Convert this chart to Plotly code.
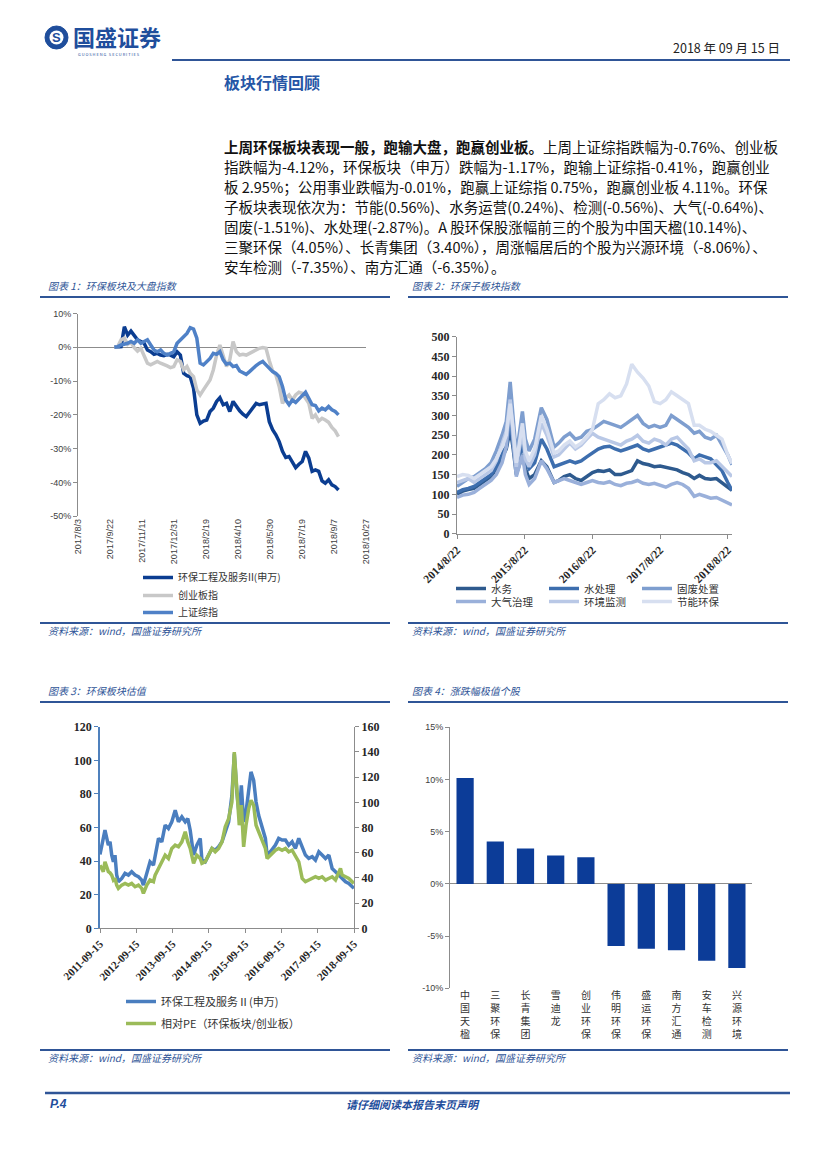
import plotly.graph_objects as go
import pandas as pd

W, H = 827, 1169
OFF = 8  # page body offset compensation
def X(p): return (p - OFF) / W
def Y(p): return 1 - (p - OFF) / H

CJK = "Noto Sans CJK SC"
BLUE_T = "#2F5597"

# ---------------- Chart 1 data ----------------
c1_dates = pd.date_range("2017-09-29", "2018-09-14", periods=69)
c1_names = ["环保工程及服务II(申万)", "创业板指", "上证综指"]
c1_hb = [0, 0, 0.2, 6.1, 3.6, 4.8, 3.6, 2.2, 1.7, 1.2,
         -0.8, -1.3, -2.1, -1.8, -2.3, -2.5, -2.1, -2.3, -2.8, -1.3,
         -2.3, -7.7, -8.4, -8.7, -12.1, -20, -22.5, -21.8, -21.5, -19,
         -18, -16, -14.9, -17, -16.6, -19, -16, -17.5, -18.8, -19.8,
         -20.5, -19.2, -18, -16.6, -17, -16.8, -16.6, -22, -24.4, -25.9,
         -27.9, -30.8, -32.6, -32.3, -33.8, -35.6, -34.6, -33.8, -30.8, -32.8,
         -36.7, -36.3, -36.7, -39.5, -40.2, -39.2, -40.7, -41.2, -42.2]
c1_cyb = [0, 0.2, 2.2, 2.7, 0.9, 1.5, -0.1, -1.1, -0.3, -2.3,
          -4.7, -5.2, -4.7, -4.2, -4.7, -5, -5.5, -6, -5.7, -3.7,
          -4.2, -6.7, -5.7, -7.7, -8.7, -12.6, -14.1, -12.6, -11.1, -9.7,
          -6.7, -2.3, 0.7, -2.3, -5.7, -3.7, 1.7, -1.3, -2.3, -2.1,
          -2.3, -1.8, -1.3, -0.8, -0.3, -0.1, -0.3, -4, -7, -8.2,
          -11.6, -16.6, -15.1, -14.1, -15.6, -14.1, -13.3, -13.6, -14.9, -16.6,
          -21, -20, -21.8, -21, -21.5, -22.2, -23.7, -24.7, -26.4]
c1_sh = [0, 0.2, 0.7, 0.9, 1.2, 1.7, 1.2, 2.2, 1.2, 1.7,
         2.2, 0.7, -0.8, -1.3, -0.8, -1.8, -2.3, -1.8, -1.3, 1.2,
         2.2, 3.2, 4.1, 5.8, 5.4, 2.7, -4.7, -5.2, -4.2, -3.3,
         -1.8, -2.1, -1.3, -3.7, -5, -4.7, -5.7, -5.4, -7, -7.4,
         -8, -7.2, -6.2, -5.4, -4.7, -4.2, -5.2, -6.2, -7.2, -7.7,
         -8.7, -11.6, -15.6, -17, -15.6, -16.3, -15.1, -14.3, -13.3, -15.3,
         -17, -17.2, -18.8, -18, -18.5, -17.5, -18.5, -19, -20]
c1_colors = ["#0B3D91", "#C8C8C8", "#4F81C7"]
c1_tickdates = ["2017-08-03", "2017-09-22", "2017-11-11", "2017-12-31", "2018-02-19",
                "2018-04-10", "2018-05-30", "2018-07-19", "2018-09-07", "2018-10-27"]
c1_ticklabels = ["2017/8/3", "2017/9/22", "2017/11/11", "2017/12/31", "2018/2/19",
                 "2018/4/10", "2018/5/30", "2018/7/19", "2018/9/7", "2018/10/27"]
c1_yticks = [-50, -40, -30, -20, -10, 0, 10]

# ---------------- Chart 2 data ----------------
c2_dates = ["2014-08-22", "2014-09-22", "2014-10-22", "2014-11-22", "2014-12-22",
            "2015-01-22", "2015-02-22", "2015-03-22", "2015-04-22", "2015-05-15",
            "2015-06-05", "2015-06-20", "2015-07-08", "2015-08-10", "2015-08-26",
            "2015-09-15", "2015-10-15", "2015-11-20", "2015-12-20", "2016-01-28",
            "2016-02-22", "2016-03-22", "2016-04-22", "2016-05-22", "2016-06-22",
            "2016-07-22", "2016-08-22", "2016-09-22", "2016-10-22", "2016-11-22",
            "2016-12-22", "2017-01-22", "2017-02-22", "2017-03-22", "2017-04-22",
            "2017-05-22", "2017-06-22", "2017-07-22", "2017-08-22", "2017-09-22",
            "2017-10-22", "2017-11-22", "2017-12-22", "2018-01-22", "2018-02-22",
            "2018-03-22", "2018-04-22", "2018-05-22", "2018-06-22", "2018-07-22",
            "2018-08-22", "2018-09-14"]
c2_sw = [100, 108, 112, 115, 125, 135, 145, 165, 195, 215,
         265, 220, 150, 200, 165, 140, 150, 185, 170, 130,
         135, 145, 150, 140, 135, 145, 155, 160, 158, 162,
         150, 150, 155, 160, 185, 178, 175, 170, 172, 168,
         165, 162, 155, 150, 140, 148, 140, 138, 140, 128,
         118, 110]
c2_scl = [105, 112, 115, 120, 130, 140, 150, 170, 205, 220,
          280, 230, 160, 230, 185, 165, 180, 240, 215, 170,
          175, 180, 185, 180, 185, 195, 205, 215, 220, 222,
          215, 210, 215, 220, 225, 215, 210, 215, 220, 225,
          230, 225, 215, 205, 190, 200, 195, 190, 175, 160,
          130, 110]
c2_gf = [120, 130, 140, 145, 155, 165, 180, 210, 250, 285,
         385, 290, 200, 310, 240, 210, 240, 320, 290, 220,
         230, 245, 255, 240, 245, 260, 265, 275, 285, 280,
         275, 270, 280, 290, 300, 280, 270, 275, 270, 275,
         300, 290, 280, 270, 255, 260, 245, 240, 250, 225,
         200, 175]
c2_dq = [92, 98, 100, 105, 115, 125, 135, 150, 180, 220,
         340, 240, 145, 200, 150, 125, 140, 185, 165, 130,
         135, 140, 135, 130, 125, 130, 135, 130, 128, 132,
         125, 122, 128, 130, 135, 128, 125, 128, 122, 118,
         125, 130, 125, 115, 95, 100, 95, 90, 92, 85,
         78, 73]
c2_jc = [130, 135, 140, 130, 140, 150, 160, 185, 225, 260,
         340, 270, 170, 260, 190, 170, 200, 280, 250, 195,
         200, 215, 230, 215, 225, 240, 255, 245, 240, 235,
         230, 225, 235, 240, 250, 235, 230, 240, 235, 225,
         240, 245, 230, 215, 185, 190, 180, 180, 185, 170,
         155, 145]
c2_jn = [145, 150, 148, 140, 150, 160, 170, 190, 220, 250,
         330, 270, 180, 280, 210, 185, 215, 300, 265, 205,
         210, 225, 235, 220, 230, 245, 265, 330, 340, 355,
         345, 350, 380, 430, 410, 395, 375, 335, 330, 340,
         360, 350, 340, 330, 275, 275, 265, 260, 250, 240,
         200, 178]
c2_names = ["水务", "水处理", "固废处置", "大气治理", "环境监测", "节能环保"]
c2_colors = ["#2E5A8E", "#3D6EAE", "#7E9ECF", "#9AB0DA", "#B9C8E6", "#D7DFF0"]
c2_tickdates = ["2014-08-22", "2015-08-22", "2016-08-22", "2017-08-22", "2018-08-22"]
c2_ticklabels = ["2014/8/22", "2015/8/22", "2016/8/22", "2017/8/22", "2018/8/22"]

# ---------------- Chart 3 data ----------------
c3_dates = ["2011-09-15", "2011-10-18", "2011-11-04", "2011-12-08", "2011-12-25",
            "2012-01-11", "2012-01-28", "2012-02-13", "2012-03-01", "2012-03-18",
            "2012-04-21", "2012-05-24", "2012-06-27", "2012-07-30", "2012-09-02",
            "2012-10-06", "2012-11-08", "2012-11-25", "2012-12-29", "2013-01-31",
            "2013-03-06", "2013-03-23", "2013-04-26", "2013-05-29", "2013-07-02",
            "2013-08-04", "2013-09-07", "2013-10-11", "2013-11-13", "2013-12-17",
            "2014-01-20", "2014-02-15", "2014-03-11", "2014-04-14", "2014-05-17",
            "2014-06-20", "2014-07-07", "2014-08-09", "2014-09-12", "2014-10-16",
            "2014-11-18", "2014-12-22", "2015-01-25", "2015-02-27", "2015-04-02",
            "2015-05-05", "2015-05-29", "2015-06-25", "2015-07-18", "2015-08-08",
            "2015-08-31", "2015-09-24", "2015-10-21", "2015-11-13", "2015-12-10",
            "2016-01-03", "2016-01-29", "2016-03-03", "2016-04-06", "2016-04-23",
            "2016-05-26", "2016-07-16", "2016-08-18", "2016-09-21", "2016-10-25",
            "2016-11-27", "2016-12-31", "2017-02-02", "2017-03-08", "2017-04-11",
            "2017-05-14", "2017-06-17", "2017-07-21", "2017-08-23", "2017-09-26",
            "2017-10-29", "2017-12-02", "2018-01-05", "2018-02-07", "2018-03-13",
            "2018-04-16", "2018-05-02", "2018-05-19", "2018-06-22", "2018-07-25",
            "2018-09-14"]
c3_pe = [44, 53.5, 58.4, 49.5, 51.5, 43.6, 39.6, 43.6, 31.7, 27.7,
         29.7, 32.7, 31.7, 33.7, 31.7, 30.7, 28.7, 25.7, 33.7, 39.6,
         37.6, 43.6, 53.5, 51.5, 61.4, 59.4, 63.4, 70.3, 63.4, 66.3,
         63.4, 65.3, 58.4, 43.6, 49.5, 53.5, 40.6, 39.6, 43.6, 47.5,
         46.5, 48.5, 51.5, 57.4, 63.4, 79.2, 104, 80.2, 67.3, 85.1,
         63.4, 69.3, 81.2, 93.1, 88.1, 75.2, 67.3, 59.4, 53.5, 43.6,
         45.5, 49.5, 53.5, 52.5, 52.5, 49.5, 51.5, 47.5, 53.5, 48.5,
         43.6, 41.6, 42.6, 40.6, 45.5, 43.6, 41.6, 43.6, 35.6, 33.7,
         31.7, 30.7, 29.7, 27.7, 26.7, 23.8]
c3_rel = [50, 45, 52.8, 45, 44, 42.2, 38.3, 39.6, 34.3, 31.7,
          34.3, 35.6, 34.3, 35.6, 33, 34.3, 31.7, 27.7, 34.3, 38.3,
          37, 42.2, 47.5, 52.8, 58, 55.4, 63.4, 66, 64.7, 68.6,
          76.6, 68.6, 63.4, 51.5, 58, 55.4, 51.5, 52.8, 58, 63.4,
          60.7, 63.4, 68.6, 80.5, 87.1, 100.3, 139.9, 103, 81.8, 97.7,
          64.7, 81.8, 95, 101.6, 97.7, 81.8, 76.6, 71.3, 63.4, 55.4,
          58, 62, 63.4, 62, 63.4, 60.7, 62, 58, 52.8, 39.6,
          37, 38.3, 39.6, 40.9, 39.6, 40.9, 38.3, 39.6, 40.9, 38.3,
          45, 47.5, 42.2, 40.9, 39.6, 35.6]
c3_names = ["环保工程及服务Ⅱ(申万)", "相对PE（环保板块/创业板）"]
c3_colors = ["#4A7EBF", "#9BBB59"]
c3_tickdates = ["2011-09-15", "2012-09-15", "2013-09-15", "2014-09-15",
                "2015-09-15", "2016-09-15", "2017-09-15", "2018-09-15"]

# ---------------- Chart 4 data ----------------
c4_stocks = ["中国天楹", "三聚环保", "长青集团", "雪迪龙", "创业环保",
             "伟明环保", "盛运环保", "南方汇通", "安车检测", "兴源环境"]
c4_change = [10.14, 4.05, 3.40, 2.71, 2.55, -5.95, -6.22, -6.35, -7.35, -8.06]
c4_yticks = [-10, -5, 0, 5, 10, 15]

# ---------------- Text ----------------
para_lines = [
    "<b>上周环保板块表现一般，跑输大盘，跑赢创业板。</b>上周上证综指跌幅为-0.76%、创业板",
    "指跌幅为-4.12%，环保板块（申万）跌幅为-1.17%，跑输上证综指-0.41%，跑赢创业",
    "板 2.95%；公用事业跌幅为-0.01%，跑赢上证综指 0.75%，跑赢创业板 4.11%。环保",
    "子板块表现依次为：节能(0.56%)、水务运营(0.24%)、检测(-0.56%)、大气(-0.64%)、",
    "固废(-1.51%)、水处理(-2.87%)。A 股环保股涨幅前三的个股为中国天楹(10.14%)、",
    "三聚环保（4.05%）、长青集团（3.40%），周涨幅居后的个股为兴源环境（-8.06%）、",
    "安车检测（-7.35%）、南方汇通（-6.35%）。",
]
chart_titles = ["图表 1：环保板块及大盘指数", "图表 2：环保子板块指数",
                "图表 3：环保板块估值", "图表 4：涨跌幅极值个股"]
source_text = "资料来源：wind，国盛证券研究所"

fig = go.Figure()

# Chart 1 traces (one legend per row)
c1_legends = ["legend", "legend5", "legend6"]
for vals, name, col, lg in zip([c1_hb, c1_cyb, c1_sh], c1_names, c1_colors, c1_legends):
    fig.add_trace(go.Scatter(x=c1_dates, y=vals, name=name, mode="lines",
                             line=dict(color=col, width=3.5), xaxis="x", yaxis="y",
                             legend=lg))

# Chart 2 traces
for i, (vals, name, col) in enumerate(zip([c2_sw, c2_scl, c2_gf, c2_dq, c2_jc, c2_jn], c2_names, c2_colors)):
    fig.add_trace(go.Scatter(x=c2_dates, y=vals, name=name, mode="lines",
                             line=dict(color=col, width=3.5), xaxis="x2", yaxis="y2",
                             legend="legend2" if i < 3 else "legend3"))

# Chart 3 traces
fig.add_trace(go.Scatter(x=c3_dates, y=c3_pe, name=c3_names[0], mode="lines",
                         line=dict(color=c3_colors[0], width=3.5), xaxis="x3", yaxis="y3",
                         legend="legend4"))
fig.add_trace(go.Scatter(x=c3_dates, y=c3_rel, name=c3_names[1], mode="lines",
                         line=dict(color=c3_colors[1], width=3.5), xaxis="x3", yaxis="y4",
                         legend="legend7"))

# Chart 4 bars
fig.add_trace(go.Bar(x=["<br>".join(s) for s in c4_stocks], y=c4_change,
                     marker=dict(color="#0C3C98", line=dict(width=0)),
                     xaxis="x4", yaxis="y5", showlegend=False))

AX = "#8C8C8C"
sans_tick = dict(family="Liberation Sans", size=9, color="#404040")
serif_tick = dict(family="Liberation Serif", size=12, color="#262626", weight="bold")

def leg(xp, ytop, size, horizontal=False):
    d = dict(x=X(xp), y=Y(ytop), xanchor="left", yanchor="top",
             orientation="h" if horizontal else "v",
             font=dict(family=CJK, size=size, color="#333333"),
             bgcolor="rgba(0,0,0,0)", borderwidth=0)
    if horizontal:
        d.update(entrywidth=48, entrywidthmode="pixels")
    return d

fig.update_layout(
    template="none",
    width=W, height=H, margin=dict(l=0, r=0, t=0, b=0, autoexpand=False),
    paper_bgcolor="white", plot_bgcolor="white",
    bargap=0.43,
    xaxis=dict(domain=[X(78), X(366)], anchor="y", type="date", automargin=False,
               range=["2017-08-03", "2018-10-27"], tickvals=c1_tickdates,
               ticktext=c1_ticklabels, tickangle=-90, showline=False,
               showgrid=False, zeroline=False, ticks="", tickfont=sans_tick),
    yaxis=dict(domain=[Y(516.3), Y(313.5)], anchor="x", range=[-50, 10], automargin=False,
               tickvals=c1_yticks, ticktext=[f"{v}%" for v in c1_yticks],
               showline=True, linecolor=AX, linewidth=1, ticks="outside",
               ticklen=4, tickcolor=AX, showgrid=False, zeroline=True,
               zerolinecolor=AX, zerolinewidth=1, tickfont=sans_tick),
    xaxis2=dict(domain=[X(457), X(732)], anchor="y2", type="date", automargin=False,
                range=["2014-08-22", "2018-09-14"], tickvals=c2_tickdates,
                ticktext=c2_ticklabels, tickangle=-45, showline=True,
                linecolor=AX, ticks="outside", ticklen=4, tickcolor=AX,
                showgrid=False, zeroline=False,
                tickfont=dict(family="Liberation Serif", size=11.5, color="#262626", weight="bold")),
    yaxis2=dict(domain=[Y(533.7), Y(336.7)], anchor="x2", range=[0, 500], automargin=False,
                dtick=50, showline=True, linecolor=AX, ticks="outside",
                ticklen=4, tickcolor=AX, showgrid=False, zeroline=False,
                tickfont=serif_tick),
    xaxis3=dict(domain=[X(100), X(354)], anchor="y3", type="date", automargin=False,
                range=["2011-09-15", "2018-09-15"], tickvals=c3_tickdates,
                ticktext=c3_tickdates, tickangle=-45, showline=True,
                linecolor=AX, ticks="outside", ticklen=4, tickcolor=AX,
                showgrid=False, zeroline=False,
                tickfont=dict(family="Liberation Serif", size=11, color="#262626", weight="bold")),
    yaxis3=dict(domain=[Y(928.3), Y(726.7)], anchor="x3", range=[0, 120], automargin=False,
                dtick=20, showline=True, linecolor="#4F81BD", linewidth=1.5,
                ticks="outside", ticklen=4, tickcolor="#4F81BD", showgrid=False,
                zeroline=False, tickfont=serif_tick),
    yaxis4=dict(overlaying="y3", anchor="x3", side="right", range=[0, 160], automargin=False,
                dtick=20, showline=True, linecolor=AX, ticks="outside",
                ticklen=4, tickcolor=AX, showgrid=False, zeroline=False,
                tickfont=serif_tick),
    xaxis4=dict(domain=[X(450), X(752)], anchor="y5", type="category", automargin=False,
                showline=False, ticks="", showgrid=False, zeroline=False,
                tickfont=dict(family=CJK, size=10, color="#333333")),
    yaxis5=dict(domain=[Y(988.3), Y(727.3)], anchor="x4", range=[-10, 15], automargin=False,
                tickvals=c4_yticks, ticktext=[f"{v}%" for v in c4_yticks],
                showline=True, linecolor=AX, ticks="outside", ticklen=4,
                tickcolor=AX, showgrid=False, zeroline=True, zerolinecolor=AX,
                zerolinewidth=1, tickfont=sans_tick),
    legend=leg(138, 563, 10),
    legend5=leg(138, 581, 10),
    legend6=leg(138, 598, 10),
    legend2=leg(451, 574, 10.5, True),
    legend3=leg(451, 587, 10.5, True),
    legend4=leg(121, 987, 11),
    legend7=leg(121, 1009, 11),
)

shapes = []
def hline(x0, x1, y, color=BLUE_T, width=2):
    shapes.append(dict(type="line", xref="paper", yref="paper", x0=X(x0), x1=X(x1),
                       y0=Y(y), y1=Y(y), line=dict(color=color, width=width)))

hline(172, 790, 60, "#2F5597", 2)
hline(40, 390, 297); hline(408, 788, 297)
hline(40, 390, 623); hline(408, 788, 623)
hline(40, 390, 702); hline(408, 788, 702)
hline(40, 390, 1050); hline(408, 788, 1050)
hline(45, 790, 1093, "#2F5597", 2.5)
# logo circle
shapes.append(dict(type="circle", xref="paper", yref="paper", x0=X(45), x1=X(68),
                   y0=Y(49), y1=Y(26), fillcolor="#1F4E9C", line=dict(color="#1F4E9C", width=1)))
shapes.append(dict(type="circle", xref="paper", yref="paper", x0=X(49.5), x1=X(63.5),
                   y0=Y(44.5), y1=Y(30.5), fillcolor="white", line=dict(width=0)))
fig.update_layout(shapes=shapes)

ann = []
def text(x, y, s, size, color="#111111", xanchor="left", family=CJK, yanchor="middle"):
    ann.append(dict(x=X(x), y=Y(y), xref="paper", yref="paper", text=s, showarrow=False,
                    xanchor=xanchor, yanchor=yanchor,
                    font=dict(family=family, size=size, color=color)))

text(56.5, 37.5, "<b>S</b>", 13, "#1F4E9C", "center", "Liberation Sans")
text(71, 36, "<b>国盛证券</b>", 22, "#1F4E9C")
text(76, 54, "G U O S H E N G   S E C U R I T I E S", 4, "#1F4E9C")
text(782, 47, "2018 年 09 月 15 日", 12.5, "#222222", "right")
text(222, 82, "<b>板块行情回顾</b>", 16, "#2556A6")

for i, line in enumerate(para_lines):
    text(222, 146.7 + 20 * i, line, 14.5, "#111111")

text(46, 286, "<i>" + chart_titles[0] + "</i>", 10, BLUE_T)
text(410, 286, "<i>" + chart_titles[1] + "</i>", 10, BLUE_T)
text(46, 690, "<i>" + chart_titles[2] + "</i>", 10, BLUE_T)
text(410, 690, "<i>" + chart_titles[3] + "</i>", 10, BLUE_T)
for (sx, sy) in [(46, 630), (410, 630), (46, 1057), (410, 1057)]:
    text(sx, sy, "<i>" + source_text + "</i>", 10, BLUE_T)

text(48, 1104, "<b><i>P.4</i></b>", 12, "#1F4E9C", "left", "Liberation Sans")
text(413, 1104, "<b><i>请仔细阅读本报告末页声明</i></b>", 11, "#1F4E9C", "center")

fig.update_layout(annotations=ann)
fig.write_html("out.html")
